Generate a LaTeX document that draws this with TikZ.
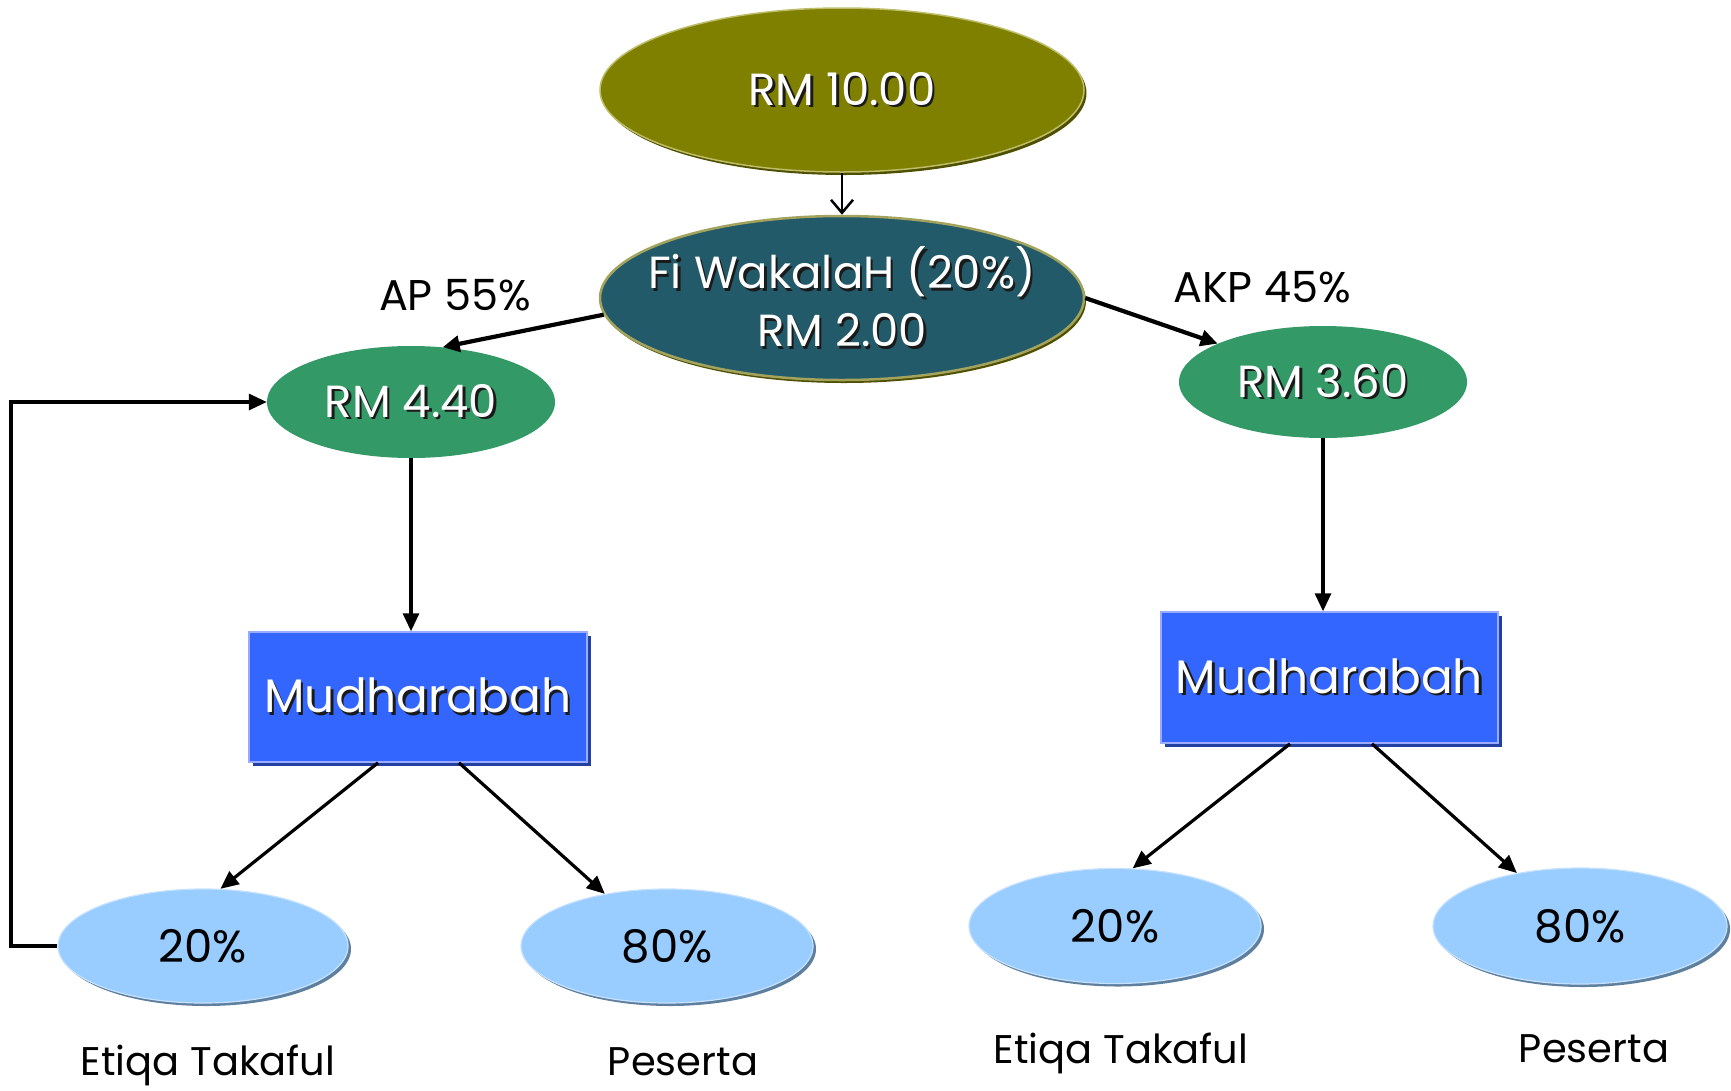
\documentclass[tikz,border=0pt]{standalone}
\usepackage{fontspec}
\setmainfont{Poppins}
\usetikzlibrary{shapes.geometric,arrows.meta,shadows,calc}
\definecolor{olivec}{HTML}{808000}
\definecolor{olivelight}{HTML}{BDBD6A}
\definecolor{olivedark}{HTML}{4F4F00}
\definecolor{tealc}{HTML}{225A69}
\definecolor{tealborder}{HTML}{A3A35E}
\definecolor{greenc}{HTML}{339966}
\definecolor{bluec}{HTML}{3366FF}
\definecolor{bluelight}{HTML}{99AAFF}
\definecolor{bluedark}{HTML}{2240A0}
\definecolor{lbluec}{HTML}{99CCFF}
\definecolor{lbshadow}{HTML}{5F7F9F}
\definecolor{lblight}{HTML}{C6E2FF}
\definecolor{tshadow}{HTML}{1A1A1A}
\newcommand\tsh[1]{\makebox[0pt][c]{\rlap{\kern2.5pt\raisebox{-2.5pt}{\color{tshadow}#1}}{\color{white}#1}}}
\newcommand\zb[1]{\makebox[0pt][c]{#1}}
\begin{document}
\begin{tikzpicture}[x=1pt,y=-1pt,
  ell/.style={ellipse, inner sep=0pt},
  topell/.style={ell, minimum width=484pt, minimum height=164pt, fill=olivec, draw=olivelight, line width=1.5pt,
    drop shadow={shadow xshift=2.5pt, shadow yshift=-3pt, fill=olivedark, opacity=1},
    font=\fontsize{45pt}{58pt}\selectfont},
  fiell/.style={ell, minimum width=484pt, minimum height=164pt, fill=tealc, draw=tealborder, line width=2.5pt,
    drop shadow={shadow xshift=2pt, shadow yshift=-3pt, fill=olivedark, opacity=1},
    align=center, font=\fontsize{45pt}{58pt}\selectfont},
  grell/.style={ell, minimum width=288pt, minimum height=112pt, fill=greenc,
    font=\fontsize{45pt}{58pt}\selectfont},
  mbox/.style={rectangle, minimum width=338pt, minimum height=130pt, inner sep=0pt, fill=bluec, draw=bluelight, line width=1.5pt,
    drop shadow={shadow xshift=3.5pt, shadow yshift=-3.5pt, fill=bluedark, opacity=1},
    font=\fontsize{47pt}{58pt}\selectfont},
  pcell/.style={ell, minimum width=292pt, minimum height=114pt, fill=lbluec, draw=lblight, line width=1.2pt,
    drop shadow={shadow xshift=3pt, shadow yshift=-3pt, fill=lbshadow, opacity=1},
    font=\fontsize{45pt}{58pt}\selectfont, text=black},
  lbl/.style={inner sep=0pt, anchor=base, text=black, font=\fontsize{43pt}{52pt}\selectfont},
  btm/.style={inner sep=0pt, anchor=base, text=black, font=\fontsize{40pt}{50pt}\selectfont},
  arr/.style={line width=3.2pt, -{Triangle[length=18pt,width=16pt]}},
  thickarr/.style={line width=4.2pt, -{Triangle[length=17pt,width=16pt]}},
  openarr/.style={line width=2.5pt, -{Straight Barb[length=13pt,width=22pt,line width=2.5pt]}}
]
\useasboundingbox (0,0) rectangle (1731,1090);

% nodes
\node[topell] (top) at (842,90) {\tsh{RM 10.00}};
\node[fiell] (fi) at (842,298) {\tsh{Fi WakalaH (20\%)}\\\tsh{RM 2.00}};
\node[grell] (l1) at (411,402) {\tsh{RM 4.40}};
\node[grell] (r1) at (1323,382) {\tsh{RM 3.60}};
\node[mbox] (lbox) at (418,697) {\tsh{Mudharabah}};
\node[mbox, minimum width=337pt, minimum height=131pt] (rbox) at (1329.5,677.5) {\tsh{Mudharabah}};
\node[pcell, minimum width=290pt] (l20) at (203,946) {\zb{20\%}};
\node[pcell] (l80) at (667,946) {\zb{80\%}};
\node[pcell, minimum height=115pt] (r20) at (1115,926) {\zb{20\%}};
\node[pcell, minimum width=294pt, minimum height=116pt] (r80) at (1580,926) {\zb{80\%}};

% labels
\node[lbl] (ap) at (455,310) {AP 55\%};
\node[lbl] (akp) at (1262,302) {AKP 45\%};
\node[btm] (etl) at (208,1075) {Etiqa Takaful};
\node[btm] (pel) at (683,1075) {Peserta};
\node[btm] (etr) at (1121,1063) {Etiqa Takaful};
\node[btm] (per) at (1594,1062) {Peserta};

% connectors
\coordinate (lx) at (11,946);
\draw[openarr] (top.south) -- (fi.north);
\draw[thickarr] (fi.184) -- (l1.60);
\draw[thickarr] (fi.east) -- (r1.160);
\draw[arr] (l1.south) -- (l1.south |- lbox.north);
\draw[arr] (r1.south) -- (r1.south |- rbox.north);
\draw[arr] ($(lbox.south)+(-40,0)$) -- (l20.73);
\draw[arr] ($(lbox.south)+(41,0)$) -- (l80.140);
\draw[arr] ($(rbox.south)+(-39.5,0)$) -- (r20.73);
\draw[arr] ($(rbox.south)+(42.5,0)$) -- (r80.140);
\draw[arr] (l20.west) -- (lx) |- (l1.west);
\end{tikzpicture}
\end{document}
